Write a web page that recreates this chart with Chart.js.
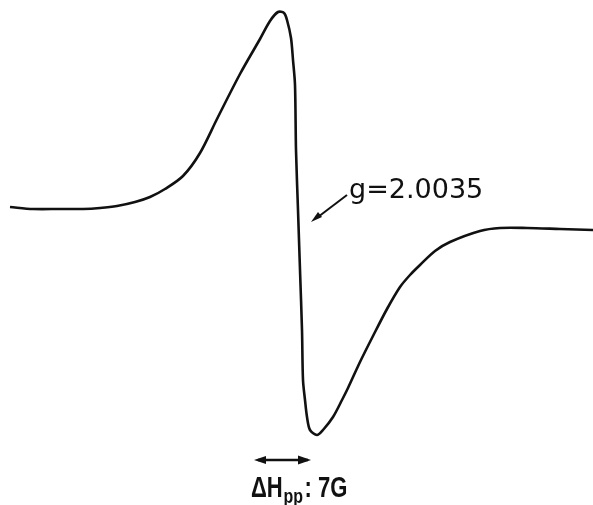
<!DOCTYPE html>
<html><head><meta charset="utf-8">
<script src="https://cdn.jsdelivr.net/npm/chart.js@4/dist/chart.umd.min.js"></script>
<style>html,body{margin:0;padding:0;background:#fff;}#wrap{width:593px;height:505px;position:relative;}</style>
</head><body><div id="wrap"><canvas id="c" width="593" height="505"></canvas></div>
<script>
// Magnetic field (arbitrary units along the sweep)
const field = [10,33,60,83,100,117,135,150,165,183,200,217,240,260,270,278,284,287,291,293,295,296,298,300,302,303,305,307,310,317,323,333,342,348,360,373,387,400,410,420,435,450,480,500,527,560,593];
// First-derivative EPR signal (arbitrary units, downward positive as read)
const signal = [207,209,209,209,208,206,202,197,189,176,153,119,74,39,21,12,13,20,38,60,85,150,210,270,330,380,400,417,430,435,430,417,400,388,362,336,309,287,275,265,251,242,231,228,228,229,230];
const gLabel = "g=2.0035";
const widthLabel = ["ΔH", "pp", ": 7G"];

const pts = field.map((x,i)=>({x, y: signal[i]}));

const annot = {
  id:'annot',
  afterDraw(chart){
    const ctx = chart.ctx;
    const xs = chart.scales.x, ys = chart.scales.y;
    const X = v=>xs.getPixelForValue(v), Y = v=>ys.getPixelForValue(v);
    ctx.save();
    ctx.fillStyle = '#111'; ctx.strokeStyle = '#111';
    // g label
    ctx.font = '27px "DejaVu Sans", sans-serif';
    ctx.textBaseline = 'alphabetic';
    ctx.fillText(gLabel, X(349), Y(198));
    // pointer arrow
    ctx.lineWidth = 2;
    ctx.beginPath(); ctx.moveTo(X(347), Y(195)); ctx.lineTo(X(318), Y(217)); ctx.stroke();
    ctx.beginPath();
    ctx.moveTo(X(311), Y(222)); ctx.lineTo(X(318), Y(212)); ctx.lineTo(X(322), Y(217)); ctx.closePath(); ctx.fill();
    // double arrow
    ctx.lineWidth = 2.5;
    ctx.beginPath(); ctx.moveTo(X(258), Y(460)); ctx.lineTo(X(308), Y(460)); ctx.stroke();
    ctx.beginPath(); ctx.moveTo(X(254), Y(460)); ctx.lineTo(X(266), Y(456)); ctx.lineTo(X(266), Y(464)); ctx.closePath(); ctx.fill();
    ctx.beginPath(); ctx.moveTo(X(311), Y(460)); ctx.lineTo(X(298), Y(455.5)); ctx.lineTo(X(298), Y(464.5)); ctx.closePath(); ctx.fill();
    // ΔHpp label (condensed bold)
    const base = Y(497);
    ctx.translate(X(251), base);
    ctx.scale(0.76, 1);
    let x = 0;
    ctx.font = 'bold 29px "Liberation Sans", sans-serif';
    ctx.fillText(widthLabel[0], x, 0); x += ctx.measureText(widthLabel[0]).width + 1;
    ctx.font = 'bold 21px "Liberation Sans", sans-serif';
    ctx.fillText(widthLabel[1], x, 6); x += ctx.measureText(widthLabel[1]).width + 2;
    ctx.font = 'bold 29px "Liberation Sans", sans-serif';
    ctx.fillText(widthLabel[2], x, 0);
    ctx.restore();
  }
};

new Chart(document.getElementById('c'), {
  type:'line',
  data:{datasets:[{data:pts, borderColor:'#111', borderWidth:2.6, pointRadius:0, fill:false, tension:0.3}]},
  options:{
    responsive:false, animation:false,
    layout:{padding:0},
    plugins:{legend:{display:false}, tooltip:{enabled:false}},
    scales:{
      x:{type:'linear', min:0, max:593, display:false},
      y:{type:'linear', min:0, max:505, reverse:true, display:false}
    }
  },
  plugins:[annot]
});
</script></body></html>
